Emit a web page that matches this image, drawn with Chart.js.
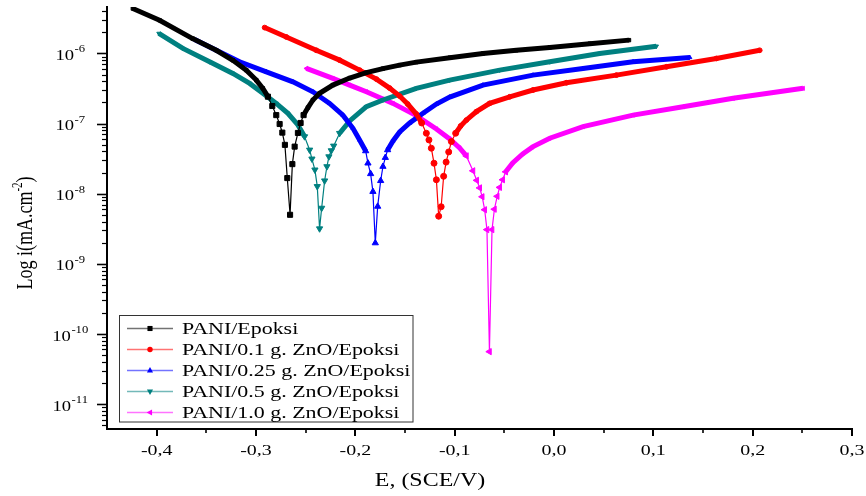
<!DOCTYPE html>
<html>
<head>
<meta charset="utf-8">
<script src="https://cdn.jsdelivr.net/npm/chart.js@4.4.0/dist/chart.umd.min.js"></script>
<style>
  html, body { margin: 0; padding: 0; background: #fff; }
</style>
</head>
<body>
<canvas id="tafelChart" width="866" height="496"></canvas>
<script>
// Nombres de las series
const seriesNames = [
    'PANI/Epoksi',
    'PANI/0.1 g. ZnO/Epoksi',
    'PANI/0.25 g. ZnO/Epoksi',
    'PANI/0.5 g. ZnO/Epoksi',
    'PANI/1.0 g. ZnO/Epoksi'
];

// Potencial E (V vs SCE) y densidad de corriente i
const ePani = [-0.4240, -0.3971, -0.3638, -0.3400, -0.3233, -0.3098, -0.2997, -0.2931, -0.2880, -0.2836, -0.2796, -0.2762,
    -0.2735, -0.2709, -0.2685, -0.2657, -0.2634, -0.2611, -0.2578, -0.2551, -0.2521, -0.2477, -0.2427, -0.2360,
    -0.2226, -0.2057, -0.1889, -0.1722, -0.1554, -0.1386, -0.1050, -0.0715, -0.0379, -0.0043, 0.0360, 0.0755];
const iPani = [4.37e-6, 2.98e-6, 1.63e-6, 1.11e-6, 8.0e-7, 5.78e-7, 4.17e-7, 3.18e-7, 2.42e-7, 1.78e-7, 1.32e-7, 9.86e-8,
    7.43e-8, 4.97e-8, 1.67e-8, 5.0e-9, 2.64e-8, 4.69e-8, 7.35e-8, 1.02e-7, 1.32e-7, 1.69e-7, 2.17e-7, 2.70e-7,
    3.54e-7, 4.46e-7, 5.33e-7, 6.08e-7, 6.82e-7, 7.52e-7, 8.71e-7, 1.0e-6, 1.11e-6, 1.22e-6, 1.38e-6, 1.55e-6];

const eZn01 = [-0.2913, -0.2695, -0.2393, -0.2158, -0.1957, -0.1788, -0.1655, -0.1554, -0.1473, -0.1386, -0.1332, -0.1285,
    -0.1259, -0.1235, -0.1208, -0.1184, -0.1161, -0.1136, -0.1111, -0.1086, -0.1060, -0.1033, -0.0990, -0.0940,
    -0.0882, -0.0781, -0.0648, -0.0446, -0.0211, 0.0125, 0.0628, 0.1132, 0.1635, 0.2071];
const iZn01 = [2.34e-6, 1.72e-6, 1.11e-6, 8.03e-7, 5.79e-7, 4.31e-7, 3.21e-7, 2.47e-7, 1.90e-7, 1.37e-7, 1.02e-7, 7.28e-8,
    5.85e-8, 4.45e-8, 2.72e-8, 1.58e-8, 4.77e-9, 6.51e-9, 1.77e-8, 2.82e-8, 3.94e-8, 5.53e-8, 7.28e-8, 9.24e-8,
    1.12e-7, 1.48e-7, 1.94e-7, 2.41e-7, 3.01e-7, 3.82e-7, 4.91e-7, 6.45e-7, 8.49e-7, 1.11e-6];

const eZn025 = [-0.3618, -0.3400, -0.3165, -0.2896, -0.2628, -0.2427, -0.2259, -0.2125, -0.2024, -0.1957, -0.1896, -0.1873,
    -0.1846, -0.1823, -0.1799, -0.1775, -0.1745, -0.1722, -0.1698, -0.1675, -0.1621, -0.1554, -0.1453, -0.1319,
    -0.1184, -0.1050, -0.0715, -0.0211, 0.0292, 0.0796, 0.1367];
const iZn025 = [1.58e-6, 1.11e-6, 7.60e-7, 5.47e-7, 3.94e-7, 2.84e-7, 1.94e-7, 1.32e-7, 8.57e-8, 5.85e-8, 4.07e-8, 2.72e-8,
    1.92e-8, 1.07e-8, 1.98e-9, 6.58e-9, 1.53e-8, 2.44e-8, 3.27e-8, 4.21e-8, 5.65e-8, 7.60e-8, 1.02e-7, 1.40e-7,
    1.90e-7, 2.39e-7, 3.54e-7, 4.91e-7, 6.12e-7, 7.60e-7, 8.77e-7];

const eZn05 = [-0.3978, -0.3736, -0.3467, -0.3233, -0.3064, -0.2931, -0.2796, -0.2679, -0.2578, -0.2511, -0.2460, -0.2437,
    -0.2407, -0.2383, -0.2360, -0.2339, -0.2309, -0.2286, -0.2266, -0.2242, -0.2218, -0.2158, -0.2057, -0.1889,
    -0.1722, -0.1386, -0.1050, -0.0547, -0.0043, 0.0460, 0.1031];
const iZn05 = [1.93e-6, 1.18e-6, 7.60e-7, 5.19e-7, 3.74e-7, 2.70e-7, 1.94e-7, 1.40e-7, 9.55e-8, 6.52e-8, 4.21e-8, 3.14e-8,
    2.19e-8, 1.27e-8, 3.17e-9, 6.24e-9, 1.53e-8, 2.44e-8, 3.38e-8, 4.12e-8, 4.80e-8, 7.28e-8, 1.09e-7, 1.74e-7,
    2.17e-7, 3.18e-7, 4.17e-7, 5.79e-7, 7.60e-7, 1.0e-6, 1.27e-6];

const eZn10 = [-0.2493, -0.2226, -0.2057, -0.1889, -0.1722, -0.1621, -0.1386, -0.1184, -0.1050, -0.0950, -0.0882, -0.0816,
    -0.0778, -0.0748, -0.0723, -0.0698, -0.0675, -0.0650, -0.0624, -0.0600, -0.0572, -0.0547, -0.0517, -0.0486,
    -0.0416, -0.0315, -0.0215, -0.0043, 0.0292, 0.0796, 0.1299, 0.1803, 0.2508];
const iZn10 = [6.12e-7, 4.41e-7, 3.54e-7, 2.84e-7, 2.24e-7, 1.94e-7, 1.30e-7, 8.38e-8, 6.04e-8, 4.50e-8, 3.46e-8, 2.12e-8,
    1.55e-8, 1.21e-8, 9.04e-9, 5.90e-9, 3.07e-9, 5.58e-11, 3.07e-9, 6.00e-9, 9.18e-9, 1.23e-8, 1.58e-8, 2.05e-8,
    2.75e-8, 3.70e-8, 4.65e-8, 6.18e-8, 9.03e-8, 1.32e-7, 1.74e-7, 2.29e-7, 3.18e-7];

// Ejes: marcas principales y etiquetas
const xTicks = [-0.4, -0.3, -0.2, -0.1, 0.0, 0.1, 0.2, 0.3];
const xMinorTicks = [-0.35, -0.25, -0.15, -0.05, 0.05, 0.15, 0.25];
const yDecades = [-11, -10, -9, -8, -7, -6];

const colors = ['#000000', '#ff0000', '#0000ff', '#008080', '#ff00ff'];
const markers = [
    { style: 'rect', rotation: 0, radius: 3.6 },
    { style: 'circle', rotation: 0, radius: 3 },
    { style: 'triangle', rotation: 0, radius: 3.6 },
    { style: 'triangle', rotation: 180, radius: 3.6 },
    { style: 'triangle', rotation: 270, radius: 3.6 }
];

const SX = 1.33; // el original está estirado en horizontal
const SERIF = '"Liberation Serif", "Times New Roman", serif';
const STEEP = 1.9;

function toPoints(es, is) {
    return es.map((e, k) => ({ x: e, y: is[k] }));
}

function stretchedText(ctx, text, x, y, size, align) {
    ctx.save();
    ctx.font = size + 'px ' + SERIF;
    ctx.textBaseline = 'middle';
    ctx.textAlign = 'left';
    const w = ctx.measureText(text).width * SX;
    const x0 = align === 'center' ? x - w / 2 : (align === 'right' ? x - w : x);
    ctx.translate(x0, y);
    ctx.scale(SX, 1);
    ctx.fillText(text, 0, 0);
    ctx.restore();
    return w;
}

function textWidth(ctx, text, size) {
    ctx.save();
    ctx.font = size + 'px ' + SERIF;
    const w = ctx.measureText(text).width * SX;
    ctx.restore();
    return w;
}

function drawMarker(ctx, m, x, y, r) {
    ctx.save();
    ctx.translate(x, y);
    ctx.rotate(m.rotation * Math.PI / 180);
    ctx.beginPath();
    if (m.style === 'rect') {
        const s = r * 0.75;
        ctx.rect(-s, -s, 2 * s, 2 * s);
    } else if (m.style === 'circle') {
        ctx.arc(0, 0, r * 0.8, 0, Math.PI * 2);
    } else {
        ctx.moveTo(0, -r);
        ctx.lineTo(r * 0.9, r * 0.6);
        ctx.lineTo(-r * 0.9, r * 0.6);
        ctx.closePath();
    }
    ctx.fill();
    ctx.restore();
}

// Marcas, etiquetas, títulos y leyenda dibujados a mano
const axisDecor = {
    id: 'axisDecor',
    afterDraw(chart) {
        const ctx = chart.ctx;
        const xs = chart.scales.x;
        const ys = chart.scales.y;
        const area = chart.chartArea;
        ctx.save();
        ctx.strokeStyle = '#000';
        ctx.fillStyle = '#000';

        // marcas del eje x
        ctx.lineWidth = 2;
        xTicks.forEach(v => {
            const px = Math.round(xs.getPixelForValue(v));
            ctx.beginPath();
            ctx.moveTo(px, area.bottom);
            ctx.lineTo(px, area.bottom + 7);
            ctx.stroke();
        });
        ctx.lineWidth = 1.6;
        xMinorTicks.forEach(v => {
            const px = Math.round(xs.getPixelForValue(v));
            ctx.beginPath();
            ctx.moveTo(px, area.bottom);
            ctx.lineTo(px, area.bottom + 4);
            ctx.stroke();
        });

        // marcas del eje y (logarítmico)
        for (let p = -12; p <= -6; p++) {
            for (let m = 1; m <= 9; m++) {
                const v = m * Math.pow(10, p);
                if (v < ys.min || v > ys.max) continue;
                const py = Math.round(ys.getPixelForValue(v)) + 0.5;
                const len = m === 1 ? 10 : 5;
                ctx.lineWidth = m === 1 ? 1.6 : 1.2;
                ctx.beginPath();
                ctx.moveTo(area.left, py);
                ctx.lineTo(area.left - len, py);
                ctx.stroke();
            }
        }

        // etiquetas del eje x
        xTicks.forEach(v => {
            const label = v.toFixed(1).replace('.', ',');
            stretchedText(ctx, label, xs.getPixelForValue(v), area.bottom + 22, 15, 'center');
        });

        // etiquetas del eje y: 10 con exponente
        yDecades.forEach(p => {
            const py = ys.getPixelForValue(Math.pow(10, p));
            const sup = String(p);
            const wb = textWidth(ctx, '10', 14);
            const ws = textWidth(ctx, sup, 9.5);
            const x0 = 70 - (wb + ws) / 2;
            stretchedText(ctx, '10', x0, py + 3, 14, 'left');
            stretchedText(ctx, sup, x0 + wb + 0.5, py - 3.5, 9.5, 'left');
        });

        // título del eje x
        stretchedText(ctx, 'E, (SCE/V)', 430, 481, 18, 'center');

        // título del eje y (rotado) con superíndice
        ctx.save();
        ctx.translate(26, (area.top + area.bottom) / 2 + 15);
        ctx.scale(SX, 1);
        ctx.rotate(-Math.PI / 2);
        ctx.textBaseline = 'middle';
        const t1 = 'Log i(mA.cm';
        const t2 = '-2';
        const t3 = ')';
        ctx.font = '18px ' + SERIF;
        const w1 = ctx.measureText(t1).width;
        const w3 = ctx.measureText(t3).width;
        ctx.font = '11px ' + SERIF;
        const w2 = ctx.measureText(t2).width;
        const x = -(w1 + w2 + w3) / 2;
        ctx.font = '18px ' + SERIF;
        ctx.fillText(t1, x, 0);
        ctx.font = '11px ' + SERIF;
        ctx.fillText(t2, x + w1, -6);
        ctx.font = '18px ' + SERIF;
        ctx.fillText(t3, x + w1 + w2, 0);
        ctx.restore();

        // leyenda
        const bx = 119.5, by = 315.5, bw = 293.5, bh = 106.5;
        ctx.fillStyle = '#fff';
        ctx.fillRect(bx, by, bw, bh);
        ctx.lineWidth = 1;
        ctx.strokeStyle = '#333';
        ctx.strokeRect(bx, by, bw, bh);
        chart.data.datasets.forEach((ds, k) => {
            const ry = 328.5 + k * 21;
            ctx.save();
            ctx.globalAlpha = 0.55;
            ctx.strokeStyle = colors[k];
            ctx.lineWidth = 1.6;
            ctx.beginPath();
            ctx.moveTo(127, ry);
            ctx.lineTo(173, ry);
            ctx.stroke();
            ctx.restore();
            ctx.fillStyle = colors[k];
            drawMarker(ctx, markers[k], 150, ry, 3.4);
            ctx.fillStyle = '#000';
            stretchedText(ctx, ds.label, 182, ry + 1, 16.5, 'left');
        });
        ctx.restore();
    }
};

// pendiente en píxeles entre dos puntos de datos
function isSteep(chart, a, b) {
    if (!a || !b) return false;
    const xs = chart.scales.x, ys = chart.scales.y;
    const dx = Math.abs(xs.getPixelForValue(b.x) - xs.getPixelForValue(a.x)) || 0.01;
    const dy = Math.abs(ys.getPixelForValue(b.y) - ys.getPixelForValue(a.y));
    return dy / dx > STEEP;
}

function buildDataset(k, es, is) {
    return {
        label: seriesNames[k],
        data: toPoints(es, is),
        showLine: true,
        borderColor: colors[k],
        backgroundColor: colors[k],
        borderWidth: 1.2,
        pointStyle: markers[k].style,
        rotation: markers[k].rotation,
        pointRadius: c => {
            const d = c.dataset.data, j = c.dataIndex;
            const sharp = isSteep(c.chart, d[j - 1], d[j]) || isSteep(c.chart, d[j], d[j + 1]);
            return sharp ? markers[k].radius : 2.4;
        },
        pointBorderWidth: 1,
        pointBorderColor: colors[k],
        pointBackgroundColor: colors[k],
        segment: {
            // donde los puntos del original se solapan forman una banda gruesa
            borderWidth: c => {
                const dx = Math.abs(c.p1.x - c.p0.x) || 0.01;
                const dy = Math.abs(c.p1.y - c.p0.y);
                return dy / dx > STEEP ? 1.2 : 5;
            }
        }
    };
}

function main() {
    const ctx = document.getElementById('tafelChart').getContext('2d');
    new Chart(ctx, {
        type: 'scatter',
        data: {
            datasets: [
                buildDataset(0, ePani, iPani),
                buildDataset(1, eZn01, iZn01),
                buildDataset(2, eZn025, iZn025),
                buildDataset(3, eZn05, iZn05),
                buildDataset(4, eZn10, iZn10)
            ]
        },
        options: {
            responsive: false,
            animation: false,
            layout: { padding: { top: 7, right: 14, left: 0, bottom: 0 } },
            plugins: {
                legend: { display: false },
                tooltip: { enabled: false }
            },
            scales: {
                x: {
                    type: 'linear',
                    min: -0.45,
                    max: 0.3,
                    grid: { display: true, drawOnChartArea: false, drawTicks: false },
                    border: { display: true, color: '#000', width: 2 },
                    ticks: { display: false },
                    afterFit: s => { s.height = 67; }
                },
                y: {
                    type: 'logarithmic',
                    min: 4.4e-12,
                    max: 4.6e-6,
                    grid: { display: true, drawOnChartArea: false, drawTicks: false },
                    border: { display: true, color: '#000', width: 2 },
                    ticks: { display: false },
                    afterFit: s => { s.width = 107; }
                }
            }
        },
        plugins: [axisDecor]
    });
}

main();
</script>
</body>
</html>
